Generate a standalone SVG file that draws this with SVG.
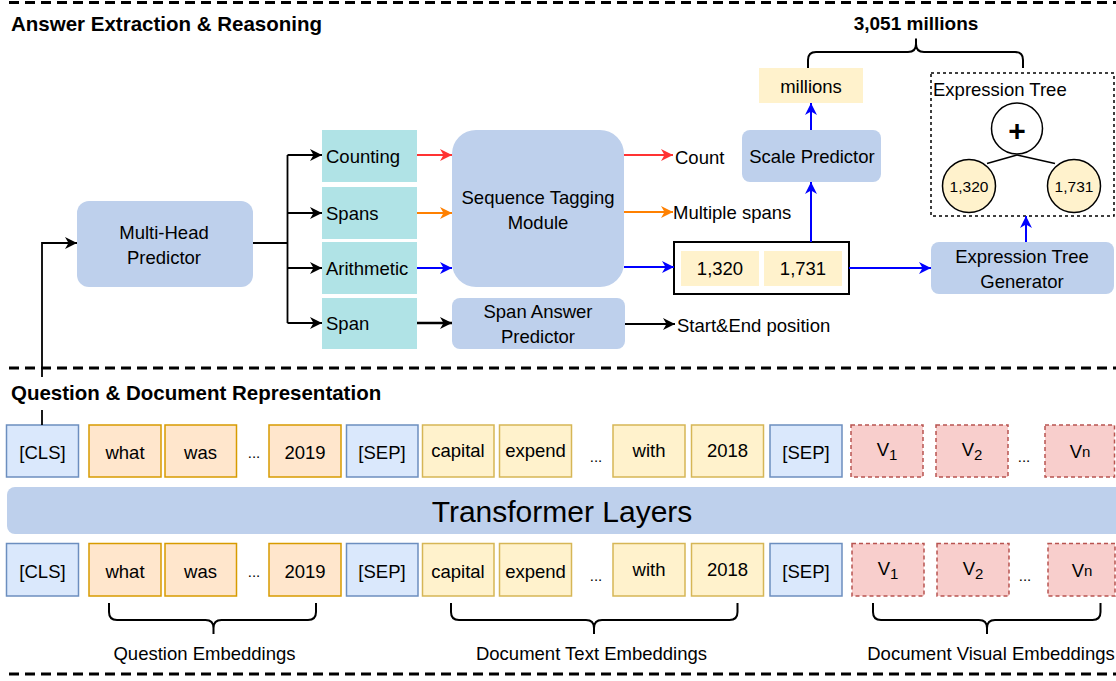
<svg xmlns="http://www.w3.org/2000/svg" width="1116" height="681" viewBox="0 0 1116 681">
<style>
text{font-family:"Liberation Sans",Arial,Helvetica,sans-serif;fill:#000}
.t{font-size:18.5px;text-anchor:middle;dominant-baseline:central}
.tl{font-size:18.5px;dominant-baseline:central}
.title{font-size:20.5px;font-weight:bold}
.sep{stroke:#000;stroke-width:3;stroke-dasharray:10 6;fill:none}
.mod{fill:#BED0EC}
.cyan{fill:#B0E3E6}
.yel{fill:#FFF2CC}
.tb{fill:#DAE8FC;stroke:#6C8EBF;stroke-width:1.5}
.to{fill:#FFE6CC;stroke:#D79B00;stroke-width:1.5}
.ty{fill:#FFF2CC;stroke:#D6B656;stroke-width:1.5}
.tv{fill:#F8CECC;stroke:#B85450;stroke-width:1.5;stroke-dasharray:4 3}
.brace{fill:none;stroke:#000;stroke-width:2}
.k{fill:none;stroke:#000;stroke-width:1.8}
.r{fill:none;stroke:#FF3333;stroke-width:1.8}
.o{fill:none;stroke:#FF8000;stroke-width:1.8}
.b{fill:none;stroke:#0000FF;stroke-width:2}
</style>
<defs>
<marker id="ak" markerUnits="userSpaceOnUse" markerWidth="13" markerHeight="13" refX="12" refY="6" orient="auto"><path d="M0,0 L12,6 L0,12 L3.5,6 z" fill="#000"/></marker>
<marker id="ar" markerUnits="userSpaceOnUse" markerWidth="13" markerHeight="13" refX="12" refY="6" orient="auto"><path d="M0,0 L12,6 L0,12 L3.5,6 z" fill="#FF3333"/></marker>
<marker id="ao" markerUnits="userSpaceOnUse" markerWidth="13" markerHeight="13" refX="12" refY="6" orient="auto"><path d="M0,0 L12,6 L0,12 L3.5,6 z" fill="#FF8000"/></marker>
<marker id="ab" markerUnits="userSpaceOnUse" markerWidth="13" markerHeight="13" refX="12" refY="6" orient="auto"><path d="M0,0 L12,6 L0,12 L3.5,6 z" fill="#0000FF"/></marker>
</defs>

<g id="separators">
<line class="sep" x1="9" y1="2.5" x2="1116" y2="2.5"/>
<line class="sep" x1="9" y1="368" x2="1116" y2="368"/>
<line class="sep" x1="9" y1="674" x2="1116" y2="674"/>
</g>

<text class="title" x="11" y="31">Answer Extraction &amp; Reasoning</text>
<text class="title" x="11" y="400">Question &amp; Document Representation</text>

<g id="multi-head">
<rect class="mod" x="77" y="201" width="176" height="86" rx="12"/>
<text class="t" x="164" y="232">Multi-Head</text>
<text class="t" x="164" y="257">Predictor</text>
</g>
<g id="counting"><rect class="cyan" x="322" y="130" width="95" height="52"/><text class="tl" x="326" y="156">Counting</text></g>
<g id="spans"><rect class="cyan" x="322" y="187" width="95" height="52"/><text class="tl" x="326" y="213">Spans</text></g>
<g id="arithmetic"><rect class="cyan" x="322" y="242" width="95" height="52"/><text class="tl" x="326" y="268">Arithmetic</text></g>
<g id="span"><rect class="cyan" x="322" y="298" width="95" height="51"/><text class="tl" x="326" y="323">Span</text></g>
<g id="stm">
<rect class="mod" x="452" y="130" width="172" height="157" rx="24"/>
<text class="t" x="538" y="197">Sequence Tagging</text>
<text class="t" x="538" y="222">Module</text>
</g>
<g id="sap">
<rect class="mod" x="452" y="298" width="173" height="51" rx="8"/>
<text class="t" x="538" y="311">Span Answer</text>
<text class="t" x="538" y="336">Predictor</text>
</g>
<g id="count-out"><text class="tl" x="675" y="157">Count</text></g>
<g id="multi-out"><text class="tl" x="673" y="212">Multiple spans</text></g>
<g id="startend-out"><text class="tl" x="677" y="325">Start&amp;End position</text></g>
<g id="numbers">
<rect x="674" y="242" width="175" height="52" fill="#fff" stroke="#000" stroke-width="2"/>
<rect class="yel" x="681" y="251" width="78" height="35"/>
<rect class="yel" x="764" y="251" width="78" height="35"/>
<text class="t" x="720" y="268">1,320</text>
<text class="t" x="803" y="268">1,731</text>
</g>
<g id="scale">
<rect class="mod" x="742" y="130" width="139" height="52" rx="8"/>
<text class="t" x="812" y="156">Scale Predictor</text>
</g>
<g id="millions">
<rect class="yel" x="759" y="68" width="104" height="35"/>
<text class="t" x="811" y="86">millions</text>
</g>
<g id="etg">
<rect class="mod" x="931" y="242" width="183" height="52" rx="8"/>
<text class="t" x="1022" y="256">Expression Tree</text>
<text class="t" x="1022" y="281">Generator</text>
</g>
<g id="expression-tree">
<rect x="931" y="73" width="183" height="143" fill="none" stroke="#000" stroke-width="1.5" stroke-dasharray="3 3"/>
<text class="tl" x="933" y="89" style="font-size:18.5px">Expression Tree</text>
<line x1="1017" y1="155" x2="987" y2="163.5" stroke="#000" stroke-width="1.5"/>
<line x1="1017" y1="155" x2="1055" y2="163.5" stroke="#000" stroke-width="1.5"/>
<circle cx="1017" cy="128.5" r="25.5" fill="#fff" stroke="#000" stroke-width="1.5"/>
<text x="1017" y="130" style="font-size:30px;font-weight:bold;text-anchor:middle;dominant-baseline:central">+</text>
<circle cx="969" cy="186" r="26.5" fill="#FFF2CC" stroke="#000" stroke-width="1.5"/>
<circle cx="1074" cy="186" r="26.5" fill="#FFF2CC" stroke="#000" stroke-width="1.5"/>
<text x="969" y="186" style="font-size:15.5px;text-anchor:middle;dominant-baseline:central">1,320</text>
<text x="1074" y="186" style="font-size:15.5px;text-anchor:middle;dominant-baseline:central">1,731</text>
</g>
<g id="result">
<path class="brace" d="M808,68 L808,60 Q808,52 816,52 L908,52 Q916,52 916,44 L916,38.5 M916,44 Q916,52 924,52 L1015,52 Q1023,52 1023,60 L1023,68" stroke-width="2.5"/>
<text x="916" y="23" style="font-size:19px;font-weight:bold;text-anchor:middle;dominant-baseline:central">3,051 millions</text>
</g>

<g id="tokens-top">
<rect class="tb" x="6.5" y="425" width="72" height="52"/><text class="t" x="42.5" y="452">[CLS]</text>
<rect class="to" x="89" y="425" width="72" height="52"/><text class="t" x="125" y="452">what</text>
<rect class="to" x="165" y="425" width="71.5" height="52"/><text class="t" x="200.5" y="452">was</text>
<text class="t" x="254" y="452" style="font-size:15px">...</text>
<rect class="to" x="269" y="425" width="72" height="52"/><text class="t" x="305" y="452">2019</text>
<rect class="tb" x="346.5" y="425" width="71.5" height="52"/><text class="t" x="382" y="452">[SEP]</text>
<rect class="ty" x="422.5" y="425" width="71.5" height="52"/><text class="t" x="458" y="450">capital</text>
<rect class="ty" x="499.5" y="425" width="72" height="52"/><text class="t" x="535.5" y="450">expend</text>
<text class="t" x="596" y="456" style="font-size:15px">...</text>
<rect class="ty" x="613" y="425" width="72" height="52"/><text class="t" x="649" y="450">with</text>
<rect class="ty" x="691.5" y="425" width="72" height="52"/><text class="t" x="727.5" y="450">2018</text>
<rect class="tb" x="770" y="425" width="72" height="52"/><text class="t" x="806" y="452">[SEP]</text>
<rect class="tv" x="851" y="425" width="72" height="52"/><text class="t" x="887" y="449">V<tspan dy="5" style="font-size:15px">1</tspan></text>
<rect class="tv" x="936" y="425" width="72" height="52"/><text class="t" x="972" y="449">V<tspan dy="5" style="font-size:15px">2</tspan></text>
<text class="t" x="1024" y="456" style="font-size:15px">...</text>
<rect class="tv" x="1045" y="425" width="69.5" height="52"/><text class="t" x="1080" y="451">V<tspan style="font-size:15px">n</tspan></text>
</g>

<g id="transformer">
<rect class="mod" x="7" y="487" width="1116" height="47" rx="8"/>
<text x="562" y="511" style="font-size:30px;text-anchor:middle;dominant-baseline:central">Transformer Layers</text>
</g>

<g id="tokens-bottom">
<rect class="tb" x="6.5" y="543.5" width="72" height="52.5"/><text class="t" x="42.5" y="571">[CLS]</text>
<rect class="to" x="89" y="543.5" width="72" height="52.5"/><text class="t" x="125" y="571">what</text>
<rect class="to" x="165" y="543.5" width="71.5" height="52.5"/><text class="t" x="200.5" y="571">was</text>
<text class="t" x="254" y="571" style="font-size:15px">...</text>
<rect class="to" x="269" y="543.5" width="72" height="52.5"/><text class="t" x="305" y="571">2019</text>
<rect class="tb" x="346.5" y="543.5" width="71.5" height="52.5"/><text class="t" x="382" y="571">[SEP]</text>
<rect class="ty" x="422.5" y="543.5" width="71.5" height="52.5"/><text class="t" x="458" y="571">capital</text>
<rect class="ty" x="499.5" y="543.5" width="72" height="52.5"/><text class="t" x="535.5" y="571">expend</text>
<text class="t" x="596" y="575" style="font-size:15px">...</text>
<rect class="ty" x="613" y="543.5" width="72" height="52.5"/><text class="t" x="649" y="569">with</text>
<rect class="ty" x="691.5" y="543.5" width="72" height="52.5"/><text class="t" x="727.5" y="569">2018</text>
<rect class="tb" x="770" y="543.5" width="72" height="52.5"/><text class="t" x="806" y="571">[SEP]</text>
<rect class="tv" x="852" y="543.5" width="72" height="52.5"/><text class="t" x="888" y="568">V<tspan dy="5" style="font-size:15px">1</tspan></text>
<rect class="tv" x="937" y="543.5" width="72" height="52.5"/><text class="t" x="973" y="568">V<tspan dy="5" style="font-size:15px">2</tspan></text>
<text class="t" x="1025" y="575" style="font-size:15px">...</text>
<rect class="tv" x="1048" y="543.5" width="67" height="52.5"/><text class="t" x="1082" y="570">V<tspan style="font-size:15px">n</tspan></text>
</g>

<g id="group-labels">
<path class="brace" d="M109,603 L109,612 Q109,620 117,620 L205.5,620 Q213.5,620 213.5,628 L213.5,634 M213.5,628 Q213.5,620 221.5,620 L308,620 Q316,620 316,612 L316,603"/>
<text class="t" x="204.5" y="653">Question Embeddings</text>
<path class="brace" d="M451,603 L451,612 Q451,620 459,620 L586,620 Q594,620 594,628 L594,634 M594,628 Q594,620 602,620 L729.5,620 Q737.5,620 737.5,612 L737.5,603"/>
<text class="t" x="591.5" y="653">Document Text Embeddings</text>
<path class="brace" d="M873,603 L873,612 Q873,620 881,620 L979,620 Q987,620 987,628 L987,634 M987,628 Q987,620 995,620 L1092.5,620 Q1100.5,620 1100.5,612 L1100.5,603"/>
<text class="t" x="991" y="653">Document Visual Embeddings</text>
</g>

<g id="connectors">
<path class="k" d="M42,425 L42,410"/>
<path class="k" d="M42,377 L42,243 L77,243" marker-end="url(#ak)"/>
<path class="k" d="M253,243 L287.5,243 M287.5,155 L287.5,323"/>
<path class="k" d="M287.5,155 L322,155" marker-end="url(#ak)"/>
<path class="k" d="M287.5,213 L322,213" marker-end="url(#ak)"/>
<path class="k" d="M287.5,268 L322,268" marker-end="url(#ak)"/>
<path class="k" d="M287.5,323 L322,323" marker-end="url(#ak)"/>
<path class="r" d="M417,155 L452,155" marker-end="url(#ar)"/>
<path class="o" d="M417,213 L452,213" marker-end="url(#ao)"/>
<path class="b" d="M417,268 L452,268" marker-end="url(#ab)"/>
<path class="k" d="M417,323 L452,323" style="stroke-width:2.6" marker-end="url(#ak)"/>
<path class="r" d="M624,155 L673,155" marker-end="url(#ar)"/>
<path class="o" d="M624,212 L673,212" marker-end="url(#ao)"/>
<path class="b" d="M624,267 L674,267" marker-end="url(#ab)"/>
<path class="k" d="M625,324 L675,324" marker-end="url(#ak)"/>
<path class="b" d="M811,242 L811,182" marker-end="url(#ab)"/>
<path class="b" d="M811,130 L811,103" marker-end="url(#ab)"/>
<path class="b" d="M849,268 L931,268" marker-end="url(#ab)"/>
<path class="b" d="M1026,242 L1026,216" marker-end="url(#ab)"/>
</g>
</svg>
